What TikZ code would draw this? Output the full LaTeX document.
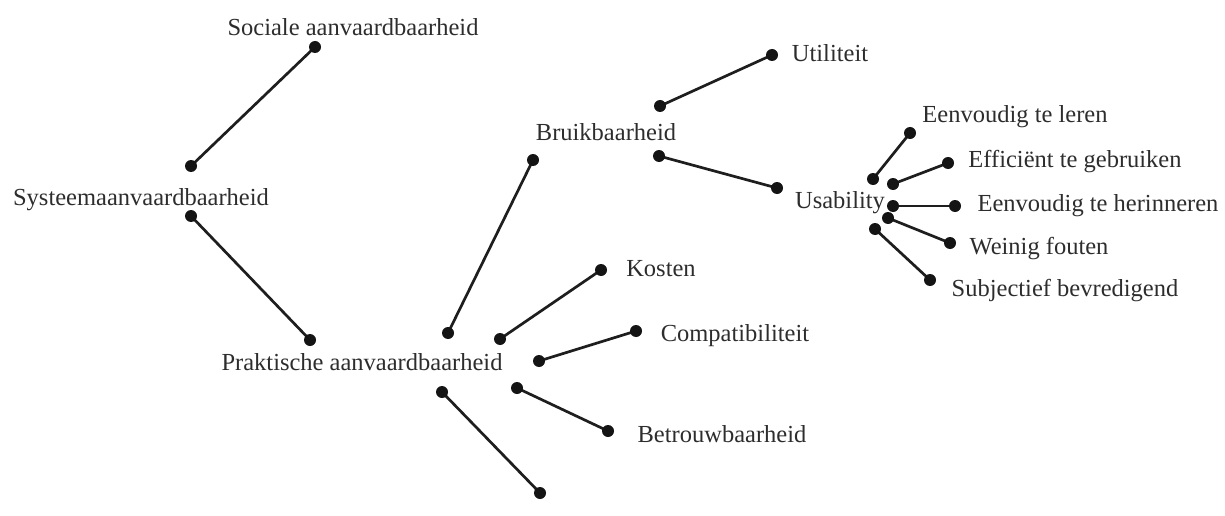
\documentclass[tikz,border=0pt]{standalone}
\usepackage{fontspec}
\setmainfont{Liberation Serif}
\usetikzlibrary{backgrounds}
\definecolor{txt}{RGB}{45,45,45}
\definecolor{dotc}{RGB}{20,20,20}
\definecolor{linec}{RGB}{30,30,30}
\begin{document}
\begin{tikzpicture}[x=1pt,y=-1pt,
  lbl/.style={anchor=base,inner sep=0pt,text=txt,font=\fontsize{24.5}{28}\selectfont},
  dot/.style={circle,fill=dotc,inner sep=0pt,minimum size=12pt},
  link/.style={draw=linec,line width=2.7pt}]
\useasboundingbox (0,0) rectangle (1225,516);
% labels
\node[lbl] (soc) at (353,36) {Sociale aanvaardbaarheid};
\node[lbl] (sys) at (141,205) {Systeemaanvaardbaarheid};
\node[lbl] (prak) at (362,370) {Praktische aanvaardbaarheid};
\node[lbl] (bruik) at (606,140) {Bruikbaarheid};
\node[lbl] (util) at (830,62) {Utiliteit};
\node[lbl] (usab) at (840,208) {Usability};
\node[lbl] (kost) at (661,276) {Kosten};
\node[lbl] (comp) at (735,341) {Compatibiliteit};
\node[lbl] (betr) at (722,442) {Betrouwbaarheid};
\node[lbl] (leren) at (1015,123) {Eenvoudig te leren};
\node[lbl] (effi) at (1075,167) {Efficiënt te gebruiken};
\node[lbl] (herin) at (1098,211) {Eenvoudig te herinneren};
\node[lbl] (wein) at (1039,254) {Weinig fouten};
\node[lbl] (subj) at (1065,296) {Subjectief bevredigend};
% dots
\node[dot] (d1a) at (315,47) {};
\node[dot] (d1b) at (191,166) {};
\node[dot] (d2a) at (191,216) {};
\node[dot] (d2b) at (310,340) {};
\node[dot] (d3a) at (448,333) {};
\node[dot] (d3b) at (533,160) {};
\node[dot] (d4a) at (500,339) {};
\node[dot] (d4b) at (601,270) {};
\node[dot] (d5a) at (539,361) {};
\node[dot] (d5b) at (636,331) {};
\node[dot] (d6a) at (517,388) {};
\node[dot] (d6b) at (608,431) {};
\node[dot] (d7a) at (442,392) {};
\node[dot] (d7b) at (540,493) {};
\node[dot] (d8a) at (660,106) {};
\node[dot] (d8b) at (772,55) {};
\node[dot] (d9a) at (659,156) {};
\node[dot] (d9b) at (777,188) {};
\node[dot] (e1a) at (873,179) {};
\node[dot] (e1b) at (910,133) {};
\node[dot] (e2a) at (893,184) {};
\node[dot] (e2b) at (948,163) {};
\node[dot] (e3a) at (893,206) {};
\node[dot] (e3b) at (955,206) {};
\node[dot] (e4a) at (888,218) {};
\node[dot] (e4b) at (950,243) {};
\node[dot] (e5a) at (875,229) {};
\node[dot] (e5b) at (930,280) {};
% links
\begin{scope}[on background layer]
\foreach \a/\b in {d1a/d1b,d2a/d2b,d3a/d3b,d4a/d4b,d5a/d5b,d6a/d6b,d7a/d7b,d8a/d8b,d9a/d9b,e1a/e1b,e2a/e2b,e3a/e3b,e4a/e4b,e5a/e5b}
  \draw[link] (\a.center) -- (\b.center);
\end{scope}
\end{tikzpicture}
\end{document}
